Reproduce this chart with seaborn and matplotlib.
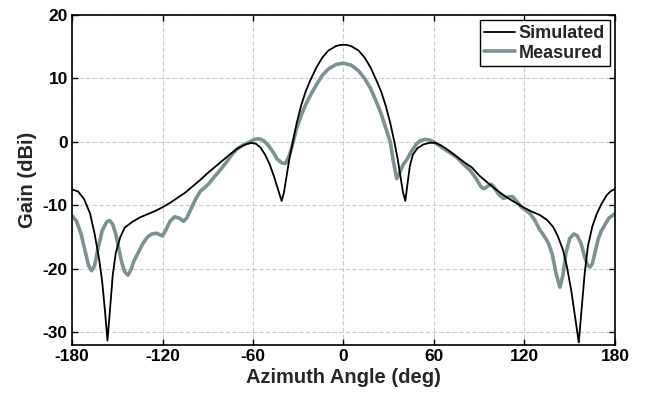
import numpy as np
import pandas as pd
import matplotlib
matplotlib.use("Agg")
import matplotlib.pyplot as plt
import seaborn as sns

# Simulated azimuth pattern
sim_angle = [-180, -176, -172, -168, -165, -162, -160, -158, -156.5, -155, -153, -151,
             -148, -145, -140, -135, -130, -125, -120, -115, -110, -105, -100, -95,
             -90, -85, -80, -75, -70, -65, -61, -58, -55, -52, -49, -46, -43, -41,
             -39.5, -38, -36, -34, -31, -28, -25, -22, -18, -14, -10, -5, -2, 0,
             2, 5, 10, 14, 18, 22, 25, 28, 31, 34, 36, 38, 39.5, 41, 42.5, 44, 46, 49,
             53, 57, 61, 65, 70, 75, 80, 85, 90, 95, 100, 105, 110, 115, 120, 125,
             130, 135, 139, 142, 145.5, 148, 151, 153.5, 156, 158, 160, 162, 165,
             168, 171, 174.5, 177, 180]
sim_gain = [-7.5, -7.8, -9.0, -11.3, -14.5, -18.5, -22, -27, -31.3, -27, -21, -17.5,
            -15, -13.5, -12.6, -11.9, -11.4, -10.9, -10.3, -9.6, -8.8, -8.0, -7.0, -6.0,
            -4.9, -3.9, -2.9, -1.9, -1.0, -0.4, -0.15, -0.3, -0.9, -2.0, -3.5, -5.5, -7.8, -9.3,
            -8.0, -5.8, -2.8, -0.5, 3.0, 5.8, 8.0, 9.7, 11.7, 13.3, 14.4, 15.1, 15.28, 15.3,
            15.28, 15.1, 14.4, 13.3, 11.7, 9.6, 7.9, 5.7, 3.0, -0.3, -2.8, -5.8, -8.0, -9.3, -6.5, -3.8, -2.0, -1.0,
            -0.4, -0.15, -0.15, -0.6, -1.4, -2.3, -3.2, -4.0, -5.3, -6.3, -7.3, -8.2, -9.0, -9.7, -10.4, -11.0,
            -11.5, -12.3, -13.4, -14.8, -17, -19.5, -23.4, -27.5, -31.6, -26, -20.5, -16.5, -13.3,
            -11.3, -9.8, -8.4, -7.8, -7.4]

# Measured azimuth pattern
meas_angle = [-180, -177, -174, -171, -169, -167, -165, -163, -160, -157, -155, -153,
              -151, -149, -147, -145, -143, -141, -139, -136, -133, -130, -127, -124,
              -122, -120, -118, -115, -112, -109, -106, -104, -101, -98, -95, -92, -89,
              -86, -83, -80, -77, -74, -71, -68, -65, -62, -59, -56, -53, -50, -47, -44,
              -41, -38.5, -36, -34, -31, -28, -25, -22, -18, -14, -10, -5, 0,
              5, 10, 14, 18, 22, 25, 28, 31, 33, 35.3, 37, 39.5, 42, 45, 48.5, 51, 54,
              57, 60, 63, 66, 70, 75, 79, 84, 88, 91, 93, 95.5, 98, 100, 103, 106, 109,
              112, 115, 118, 121, 124, 127, 130, 133, 136, 138.5, 141, 143.5, 145.5,
              147.5, 150, 152.8, 155, 157.5, 160, 162, 163.5, 165, 167, 169, 171,
              173.5, 176, 180]
meas_gain = [-11.6, -12.5, -14.5, -17.5, -19.5, -20.3, -19.5, -17, -14, -12.6, -12.4, -13,
             -14.5, -16.8, -19, -20.5, -21, -20.2, -18.8, -17.4, -16, -15, -14.5, -14.4,
             -14.6, -14.8, -14, -12.5, -11.8, -12.0, -12.5, -12.0, -10.5, -9, -7.8, -7.2, -6.5,
             -5.6, -4.8, -3.9, -3.0, -2.0, -1.2, -0.7, -0.3, 0.0, 0.4, 0.5, 0.2, -0.5, -1.5, -2.7,
             -3.3, -3.4, -2.2, -0.6, 2.2, 4.2, 5.9, 7.3, 9.0, 10.5, 11.5, 12.2, 12.4,
             12.1, 11.2, 10.0, 8.4, 6.2, 4.4, 2.2, 0.0, -3.0, -5.8, -5.0, -3.6, -2.8, -1.5, -0.3, 0.2, 0.4,
             0.3, 0.0, -0.5, -1.0, -1.6, -2.4, -3.4, -4.5, -5.8, -7.0, -7.4, -7.0, -6.7, -7.2, -8.3, -8.9, -8.7,
             -8.6, -9.4, -10.3, -10.8, -11.4, -12.4, -13.8, -14.8, -16.0, -17.8, -20.8, -22.9, -21,
             -17.5, -15.2, -14.5, -14.8, -16, -18.2, -19.5, -19.7, -19.2, -17.2, -15.2, -14,
             -13, -12, -11.3]

x_ticks = [-180, -120, -60, 0, 60, 120, 180]
y_ticks = [-30, -20, -10, 0, 10, 20]

sns.set_theme(style="white")
plt.rcParams["font.family"] = ["Liberation Sans", "DejaVu Sans"]
plt.rcParams["font.weight"] = "bold"

fig = plt.figure(figsize=(6.47, 3.94), dpi=100)
ax = fig.add_axes([0.1113, 0.1244, 0.8392, 0.8376])

sim_df = pd.DataFrame({"angle": sim_angle, "gain": sim_gain})
meas_df = pd.DataFrame({"angle": meas_angle, "gain": meas_gain})

sns.lineplot(data=sim_df, x="angle", y="gain", ax=ax, color="black",
             linewidth=1.3, label="Simulated", zorder=3)
sns.lineplot(data=meas_df, x="angle", y="gain", ax=ax, color="#7c9193",
             linewidth=2.6, label="Measured", zorder=2)

ax.set_xlim(-180, 180)
ax.set_ylim(-32, 20)
ax.set_xticks(x_ticks)
ax.set_yticks(y_ticks)
ax.set_xticklabels([str(t) for t in x_ticks], fontsize=12.5, fontweight="bold")
ax.set_yticklabels([str(t) for t in y_ticks], fontsize=12.5, fontweight="bold")
ax.tick_params(direction="in", length=4, width=1, top=True, right=True,
               bottom=True, left=True, pad=3, colors="black")

ax.grid(True, color="#cccccc", linestyle=(0, (4, 2)), linewidth=0.8)
ax.set_axisbelow(True)
for sp in ax.spines.values():
    sp.set_color("black")
    sp.set_linewidth(1.2)

ax.set_xlabel("Azimuth Angle (deg)", fontsize=14.5, fontweight="bold", labelpad=3)
ax.set_ylabel("Gain (dBi)", fontsize=14.5, fontweight="bold", labelpad=4)

leg = ax.legend(loc="upper right", prop={"size": 13, "weight": "bold"},
                frameon=True, fancybox=False, edgecolor="black", framealpha=1,
                handlelength=1.7, borderpad=0.25, labelspacing=0.15,
                handletextpad=0.2, borderaxespad=0.3)
leg.get_frame().set_linewidth(1.0)

fig.savefig("out.png", dpi=100)
